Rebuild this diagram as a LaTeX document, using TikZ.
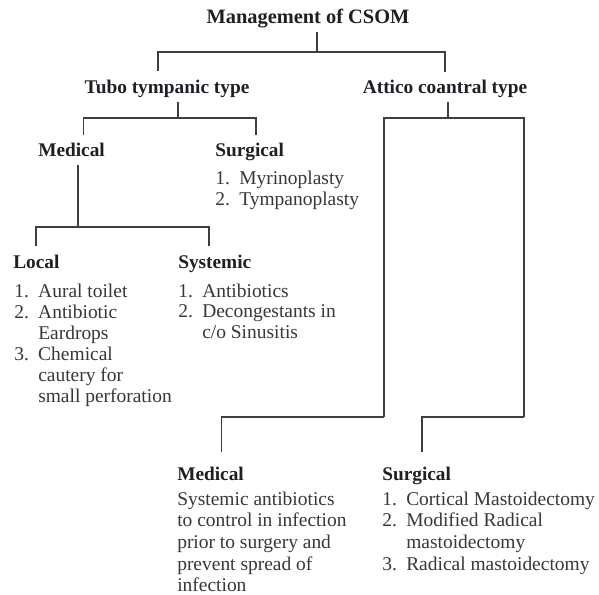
\documentclass[tikz,border=0pt]{standalone}
\usepackage{fontspec}
\setmainfont{Liberation Serif}
\usepackage{xcolor}
\usepackage{tikz}
\usetikzlibrary{calc,positioning}
\definecolor{inkhead}{RGB}{30,30,36}
\definecolor{inkbody}{RGB}{55,55,58}
\definecolor{inkline}{RGB}{62,62,66}
\newcommand{\numitem}[2]{\makebox[18pt][l]{#1}#2}
\tikzset{
  head/.style={font=\fontsize{14.5}{17}\selectfont\bfseries, text=inkhead,
               inner xsep=0pt, inner ysep=6pt, text height=10pt, text depth=0pt},
  item/.style={font=\fontsize{14.6}{16}\selectfont, text=inkbody,
               inner sep=0pt, anchor=base west},
  branch/.style={draw=inkline, line width=1.3pt},
}
\begin{document}
\begin{tikzpicture}[x=0.75pt, y=-0.75pt]
\useasboundingbox (0,0) rectangle (599,595);
% headings
\node[head, anchor=base, font=\fontsize{15.3}{17}\selectfont\bfseries] (title) at (308,24) {Management of CSOM};
\node[head, anchor=base] (tubo) at (167,94) {Tubo tympanic type};
\node[head, anchor=base] (attico) at (445,94) {Attico coantral type};
\node[head, anchor=base west] (tmed) at (38,157) {Medical};
\node[head, anchor=base west] (tsurg) at (215,157) {Surgical};
\node[head, anchor=base west] (local) at (13,268) {Local};
\node[head, anchor=base west] (systemic) at (178,268) {Systemic};
\node[head, anchor=base west] (amed) at (177,480) {Medical};
\node[head, anchor=base west] (asurg) at (382,480) {Surgical};
% lists
\foreach \n/\t [count=\i] in {1./Myrinoplasty, 2./Tympanoplasty}
  \node[item] (tsurg-\i) at (215, {185+(\i-1)*20.5}) {\numitem{\n}{\t}};
\foreach \n/\t [count=\i] in {1./Aural toilet, 2./Antibiotic, {}/Eardrops,
    3./Chemical, {}/cautery for, {}/small perforation}
  \node[item] (local-\i) at (14, {297+(\i-1)*21}) {\numitem{\n}{\t}};
\foreach \n/\t [count=\i] in {1./Antibiotics, 2./Decongestants in,
    {}/{c/o Sinusitis}}
  \node[item] (systemic-\i) at (178, {297+(\i-1)*20.8}) {\numitem{\n}{\t}};
\foreach \t [count=\i] in {Systemic antibiotics, to control in infection,
    prior to surgery and, prevent spread of, infection}
  \node[item] (amed-\i) at (177, {505+(\i-1)*21.7}) {\t};
\foreach \n/\t [count=\i] in {1./Cortical Mastoidectomy, 2./Modified Radical,
    {}/mastoidectomy, 3./Radical mastoidectomy}
  \node[item] (asurg-\i) at (382, {505+(\i-1)*21.7}) {\numitem{\n}{\t}};
% branch points
\coordinate (csom-bar) at (317,52);
\coordinate (tt-drop) at (158,71);
\coordinate (tt-bar) at (178,118);
\coordinate (med-bar) at (78,227);
\coordinate (ac-bar) at (448,118);
\coordinate (am-turn) at (384,417);
\coordinate (as-turn) at (524,417);
% connectors
\draw[branch] (title.south -| csom-bar) -- (csom-bar);
\draw[branch] (tt-drop) |- (csom-bar) -| (attico.north);
\draw[branch] (tubo.south -| tt-bar) -- (tt-bar);
\draw[branch] ([xshift=9pt]tmed.north) |- (tt-bar) -| ([xshift=5pt]tsurg.north);
\draw[branch] (tmed.south -| med-bar) -- (med-bar);
\draw[branch] (local.north) |- (med-bar) -| ([xshift=-4.5pt]systemic.north);
\draw[branch] (attico.south -| ac-bar) -- (ac-bar);
\draw[branch] (am-turn) |- (ac-bar) -| (as-turn);
\draw[branch] ([shift={(8.25pt,5pt)}]amed.north) |- (am-turn);
\draw[branch] ([shift={(4pt,5pt)}]asurg.north) |- (as-turn);
\end{tikzpicture}
\end{document}
